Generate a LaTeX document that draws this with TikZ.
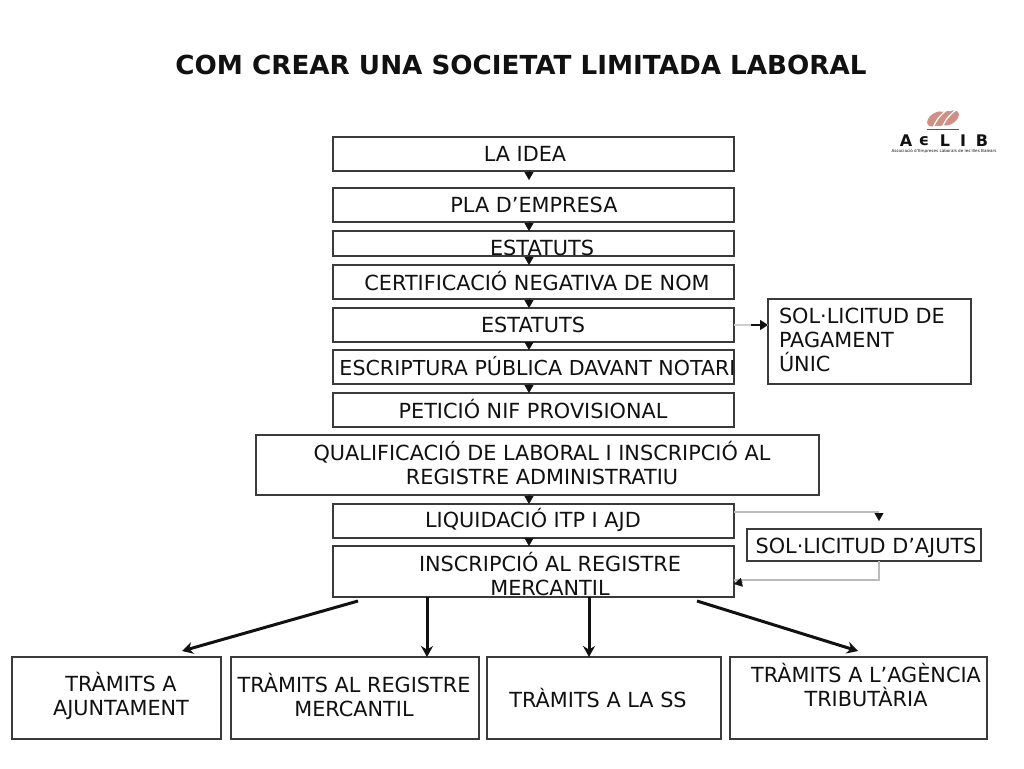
\documentclass[tikz,border=0pt]{standalone}
\usepackage{fontspec}
\setmainfont{DejaVu Sans}
\usetikzlibrary{arrows.meta}
\definecolor{ink}{HTML}{111111}
\definecolor{edge}{HTML}{3A3A3A}
\definecolor{graywire}{HTML}{BBBBBB}
\definecolor{swoosh}{HTML}{CF9088}
\definecolor{swooshline}{HTML}{9E3B3B}
\tikzset{
  boxn/.style={draw=edge,line width=1.1pt,fill=white,inner sep=0pt,outer sep=0pt},
  lab/.style={inner sep=0pt,outer sep=0pt,text=ink,align=center,font=\fontsize{20.8}{24}\selectfont},
  labl/.style={lab,align=left,anchor=west},
  small/.style={-{Triangle[length=8pt,width=9pt]},draw=ink,line width=.4pt},
  wire/.style={draw=graywire,line width=1.1pt},
  big/.style={-{Stealth[length=11pt,width=12pt]},draw=ink,line width=3pt},
  logoL/.style={inner sep=0pt,outer sep=0pt,text=ink,font=\fontsize{16}{16}\selectfont\bfseries}
}
\newcommand{\bx}[5]{\node[boxn,minimum width={(#4)-(#2)},minimum height={(#5)-(#3)}] (#1) at ({((#2)+(#4))/2},{((#3)+(#5))/2}) {};}
\begin{document}
\begin{tikzpicture}[x=1pt,y=-1pt]
\useasboundingbox (0,0) rectangle (1024,768);
\node[inner sep=0pt,text=ink,font=\fontsize{26.2}{30}\selectfont\bfseries] (title) at (521,64.5) {COM CREAR UNA SOCIETAT LIMITADA LABORAL};
% boxes
\bx{idea}{333}{137}{734}{171}
\bx{pla}{333}{188}{734}{222}
\bx{est}{333}{231}{734}{256}
\bx{cert}{333}{265}{734}{299}
\bx{estb}{333}{308}{734}{342}
\bx{escr}{333}{350}{734}{384}
\bx{pet}{333}{393}{734}{427}
\bx{qual}{256}{435}{819}{495}
\bx{liq}{333}{504}{734}{538}
\bx{insc}{333}{546}{734}{597}
\bx{sol}{768}{299}{971}{384}
\bx{ajuts}{747}{529}{981}{561}
\bx{ta}{12}{657}{221}{739}
\bx{tb}{231}{657}{479}{739}
\bx{tc}{487}{657}{721}{739}
\bx{td}{730}{657}{987}{739}
% labels
\node[lab] (ideat) at (525,154) {LA IDEA};
\node[lab] (plat) at (534,205) {PLA D’EMPRESA};
\node[lab] (estt) at (542,248) {ESTATUTS};
\node[lab] (certt) at (537,281) {CERTIFICACIÓ NEGATIVA DE NOM};
\node[lab] (estbt) at (533,325) {ESTATUTS};
\node[lab,font=\fontsize{20.6}{24}\selectfont] (escrt) at (537.5,366) {ESCRIPTURA PÚBLICA DAVANT NOTARI};
\node[lab] (pett) at (533,409) {PETICIÓ NIF PROVISIONAL};
\node[lab] (qualt) at (542,463) {QUALIFICACIÓ DE LABORAL I INSCRIPCIÓ AL\\REGISTRE ADMINISTRATIU};
\node[lab] (liqt) at (533,520) {LIQUIDACIÓ ITP I AJD};
\node[lab] (insct) at (550,574) {INSCRIPCIÓ AL REGISTRE\\MERCANTIL};
\node[labl] (solt) at (779,340) {SOL·LICITUD DE\\PAGAMENT\\ÚNIC};
\node[lab] (ajutst) at (866,548) {SOL·LICITUD D’AJUTS};
\node[lab] (tat) at (121,696) {TRÀMITS A\\AJUNTAMENT};
\node[lab] (tbt) at (354,695) {TRÀMITS AL REGISTRE\\MERCANTIL};
\node[lab] (tct) at (598,698) {TRÀMITS A LA SS};
\node[lab] (tdt) at (866,685) {TRÀMITS A L’AGÈNCIA\\TRIBUTÀRIA};
% small arrows
\coordinate (cx) at (529,0);
\draw[small,shorten >=8pt] (idea.south-|cx) -- (pla.north-|cx);
\draw[small] (pla.south-|cx) -- (est.north-|cx);
\draw[small] (est.south-|cx) -- (cert.north-|cx);
\draw[small] (cert.south-|cx) -- (estb.north-|cx);
\draw[small] (estb.south-|cx) -- (escr.north-|cx);
\draw[small] (escr.south-|cx) -- (pet.north-|cx);
\draw[small] (qual.south-|cx) -- (liq.north-|cx);
\draw[small] (liq.south-|cx) -- (insc.north-|cx);
% side connectors
\draw[wire,draw=graywire!70] (estb.east) -- (sol.west|-estb.east);
\draw[-{Triangle[length=8pt,width=10pt]},draw=ink,line width=1.6pt] ([xshift=-17pt]sol.west|-estb.east) -- (sol.west|-estb.east);
\coordinate (ajx) at (879,0);
\coordinate (ajy) at (0,512);
\coordinate (ajtop) at (879,521);
\coordinate (backy) at (0,580);
\draw[wire] (liq.east|-ajy) -- (ajx|-ajy);
\draw[small] (ajx|-ajy) ++(0,1) -- (ajtop);
\draw[wire] (ajuts.south-|ajx) -- (ajx|-backy) -- (insc.east|-backy);
\draw[-{Triangle[length=8pt,width=9pt]},draw=ink,line width=.4pt] ([xshift=9pt,yshift=-2pt]insc.east|-backy) -- ([yshift=-4pt]insc.east|-backy);
% big arrows
\coordinate (ba) at (358,601);
\coordinate (bd) at (697,601);
\coordinate (bb) at (427,0);
\coordinate (bc) at (589,0);
\draw[big] (ba) -- (182,651);
\draw[big] (insc.south-|bb) -- (tb.north-|bb);
\draw[big] (insc.south-|bc) -- (tc.north-|bc);
\draw[big] (bd) -- (858,651);
% logo
\begin{scope}
\fill[swoosh,rotate around={35:(936,119)}] (936,119) ellipse (10 and 6);
\fill[swoosh,rotate around={35:(943,118.5)}] (943,118.5) ellipse (10 and 6);
\fill[swoosh,rotate around={35:(950,118)}] (950,118) ellipse (10 and 6);
\draw[white,line width=1.2pt] (933,128) .. controls (936,120) and (941,114) .. (947,110);
\draw[white,line width=1.2pt] (942,128) .. controls (945,120) and (950,114) .. (956,110);
\draw[swooshline,line width=1.1pt] (927,129.5) -- (959,129.5);
\end{scope}
\node[logoL] (la) at (906,141) {A};
\node[logoL] (le) at (924,141) {ϵ};
\node[logoL] (ll) at (945,141) {L};
\node[logoL] (li) at (963,141) {I};
\node[logoL] (lb) at (982,141) {B};
\node[inner sep=0pt,text=ink,font=\fontsize{4.1}{5}\selectfont] (lt) at (944,151.5) {Associació d’Empreses Laborals de les Illes Balears};
\end{tikzpicture}
\end{document}
